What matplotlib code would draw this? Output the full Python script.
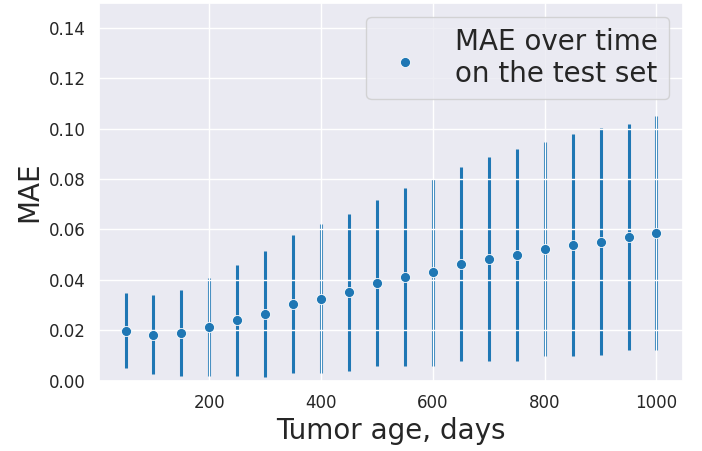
import matplotlib
matplotlib.use("Agg")
import matplotlib.pyplot as plt
import seaborn as sns
import numpy as np

sns.set_theme(style="darkgrid")

ages = [50, 100, 150, 200, 250, 300, 350, 400, 450, 500,
        550, 600, 650, 700, 750, 800, 850, 900, 950, 1000]
mae = [0.0199, 0.0183, 0.0190, 0.0214, 0.0240, 0.0266, 0.0304, 0.0326, 0.0351, 0.0386,
       0.0410, 0.0430, 0.0463, 0.0482, 0.0498, 0.0522, 0.0538, 0.0552, 0.0570, 0.0586]
mae_std = [0.0148, 0.0157, 0.0171, 0.0194, 0.0220, 0.0250, 0.0275, 0.0294, 0.0311, 0.0329,
           0.0353, 0.0370, 0.0386, 0.0406, 0.0422, 0.0426, 0.0440, 0.0450, 0.0450, 0.0466]

fig = plt.figure(figsize=(7.02, 4.51), dpi=100)
ax = fig.add_axes([0.141, 0.156, 0.832, 0.838])

ax.errorbar(ages, mae, yerr=mae_std, fmt="none", ecolor="#1f77b4",
            elinewidth=2.2, zorder=1)
sns.scatterplot(x=ages, y=mae, ax=ax, color="#1f77b4", s=52, zorder=3,
                label="MAE over time\non the test set")
ax.set_axisbelow("line")

ax.set_ylim(0, 0.15)
ax.set_yticks(np.arange(0, 0.141, 0.02))
ax.set_xticks([200, 400, 600, 800, 1000])
ax.tick_params(labelsize=12)
ax.set_xlabel("Tumor age, days", fontsize=20)
ax.set_ylabel("MAE", fontsize=20)
ax.legend(loc="upper right", fontsize=20)

fig.savefig("out.png", dpi=100)
